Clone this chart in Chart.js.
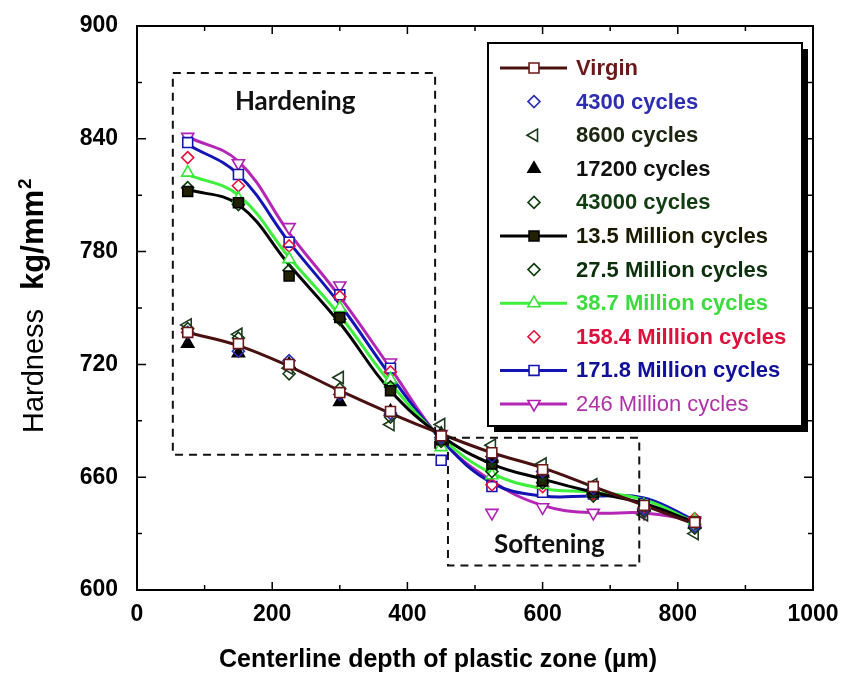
<!DOCTYPE html>
<html>
<head>
<meta charset="utf-8">
<script src="https://cdn.jsdelivr.net/npm/chart.js@4/dist/chart.umd.min.js"></script>
<style>
  html, body { margin: 0; padding: 0; background: #fff; }
  #wrap { width: 842px; height: 677px; position: relative; }
</style>
</head>
<body>
<div id="wrap"><canvas id="c" width="842" height="677"></canvas></div>
<script>
// Depth positions along the centerline (µm)
const depths = [75, 150, 225, 300, 375, 450, 525, 600, 675, 750, 825];
const xTicks = [0, 200, 400, 600, 800, 1000];
const yTicks = [600, 660, 720, 780, 840, 900];

// Measured microhardness (kg/mm²) for each loading history
const virgin   = [737, 731, 720, 705, 695, 682, 673, 664, 655, 645, 636];
const c4300    = [737, 727, 722, 704, 694, 681, 671, 663, 654, 643, 634];
const c8600    = [741, 736, 718, 713, 688, 688, 677, 667, 656, 640, 630];
const c17200   = [731, 726, 720, 700, 695, 683, 670, 662, 653, 644, 635];
const c43000   = [739, 734, 715, 707, 692, 680, 669, 661, 652, 642, 633];
const m13_5    = [812, 806, 767, 745, 706, 680, 667, 658, 652, 645, 636];
const m27_5    = [814, 805, 770, 744, 708, 679, 663, 657, 650, 643, 633];
const m38_7    = [822, 808, 776, 750, 712, 676, 661, 656, 652, 645, 637];
const m158_4   = [830, 815, 783, 756, 716, 678, 656, 655, 651, 644, 638];
const m171_8   = [838, 821, 785, 757, 718, 669, 655, 652, 651, 646, 636];
const m246     = [841, 827, 793, 762, 721, 683, 641, 644, 641, 641, 637];

// Smoothed trend curves
const virginFit = [737, 730, 719, 706, 694, 683, 673, 665, 655, 645, 635];
const fit13_5   = [813, 805, 773, 742, 706, 682, 667, 659, 652, 646, 636];
const fit38_7   = [821, 810, 777, 746, 710, 681, 662, 654, 652, 648, 636];
const fit171_8  = [837, 821, 785, 752, 714, 680, 657, 650, 650, 649, 637];
const fit246    = [841, 828, 790, 756, 718, 680, 658, 645, 641, 641, 637];

const seriesNames = [
  'Virgin', '4300 cycles', '8600 cycles', '17200 cycles', '43000 cycles',
  '13.5 Million cycles', '27.5 Million cycles', '38.7 Million cycles',
  '158.4 Milllion cycles', '171.8 Million cycles', '246 Million cycles'
];

const xTitle = 'Centerline depth of plastic zone (µm)';
const yTitleParts = ['Hardness', 'kg/mm', '2'];

// Series styling: marker shape, colours, whether a trend curve is drawn
const series = [
  { name: seriesNames[0],  data: virgin, fit: virginFit, shape: 'rect',     rot: 0,   r: 7, stroke: '#6a1818', fill: '#ffffff', line: '#4a1010', text: '#6a1818', bold: true },
  { name: seriesNames[1],  data: c4300,  fit: null,      shape: 'rectRot',  rot: 0,   r: 6, stroke: '#2d2db4', fill: 'rgba(0,0,0,0)', text: '#2d2db4', bold: true },
  { name: seriesNames[2],  data: c8600,  fit: null,      shape: 'triangle', rot: -90, r: 7, stroke: '#1c3a1c', fill: 'rgba(0,0,0,0)', text: '#1a2610', bold: true },
  { name: seriesNames[3],  data: c17200, fit: null,      shape: 'triangle', rot: 0,   r: 7, stroke: '#000000', fill: '#000000', text: '#101010', bold: true },
  { name: seriesNames[4],  data: c43000, fit: null,      shape: 'rectRot',  rot: 0,   r: 6, stroke: '#123c12', fill: 'rgba(0,0,0,0)', text: '#123c12', bold: true },
  { name: seriesNames[5],  data: m13_5,  fit: fit13_5,   shape: 'rect',     rot: 0,   r: 7, stroke: '#000000', fill: '#222200', line: '#000000', text: '#1a1a00', bold: true },
  { name: seriesNames[6],  data: m27_5,  fit: null,      shape: 'rectRot',  rot: 0,   r: 6, stroke: '#0c3c0c', fill: 'rgba(0,0,0,0)', text: '#0c300c', bold: true },
  { name: seriesNames[7],  data: m38_7,  fit: fit38_7,   shape: 'triangle', rot: 0,   r: 7, stroke: '#33e633', fill: '#ffffff', line: '#3cf03c', text: '#3cdc3c', bold: true },
  { name: seriesNames[8],  data: m158_4, fit: null,      shape: 'rectRot',  rot: 0,   r: 6, stroke: '#e8103c', fill: 'rgba(0,0,0,0)', text: '#e0103c', bold: true },
  { name: seriesNames[9],  data: m171_8, fit: fit171_8,  shape: 'rect',     rot: 0,   r: 7, stroke: '#1414b0', fill: '#ffffff', line: '#1414b4', text: '#10109a', bold: true },
  { name: seriesNames[10], data: m246,   fit: fit246,    shape: 'triangle', rot: 180, r: 7, stroke: '#b020b4', fill: '#ffffff', line: '#b426b4', text: '#b030a8', bold: false }
];

// Region outlines in data units
const hardeningBox = { x0: 53, x1: 441, y0: 672, y1: 875, label: 'Hardening' };
const softeningBox = { x0: 460, x1: 743, y0: 613, y1: 681, label: 'Softening' };

const datasets = [];
series.forEach(s => {
  if (s.fit) {
    datasets.push({
      label: s.name + ' trend',
      data: depths.map((x, i) => ({ x, y: s.fit[i] })),
      showLine: true,
      borderColor: s.line,
      borderWidth: 3,
      pointRadius: 0,
      tension: 0.4,
      fill: false,
      order: 2
    });
  }
  datasets.push({
    label: s.name,
    data: depths.map((x, i) => ({ x, y: s.data[i] })),
    showLine: false,
    pointStyle: s.shape,
    rotation: s.rot,
    pointRadius: s.r,
    pointBorderWidth: 1.6,
    pointBorderColor: s.stroke,
    pointBackgroundColor: s.fill,
    order: 1
  });
});

function drawMarker(ctx, shape, x, y, r, rot, stroke, fill) {
  ctx.save();
  ctx.translate(x, y);
  ctx.rotate(rot * Math.PI / 180);
  ctx.beginPath();
  if (shape === 'rect') {
    const s = r * Math.SQRT1_2;
    ctx.rect(-s, -s, 2 * s, 2 * s);
  } else if (shape === 'rectRot') {
    ctx.moveTo(0, -r); ctx.lineTo(r, 0); ctx.lineTo(0, r); ctx.lineTo(-r, 0); ctx.closePath();
  } else {
    for (let k = 0; k < 3; k++) {
      const a = k * 2 * Math.PI / 3;
      const px = Math.sin(a) * r, py = -Math.cos(a) * r;
      if (k === 0) ctx.moveTo(px, py); else ctx.lineTo(px, py);
    }
    ctx.closePath();
  }
  ctx.fillStyle = fill;
  ctx.fill();
  ctx.lineWidth = 1.6;
  ctx.strokeStyle = stroke;
  ctx.stroke();
  ctx.restore();
}

const FAMILY = '"Liberation Sans", Arial, sans-serif';

// Frame, inward tick marks, region boxes, axis titles and the boxed legend
const decorations = {
  id: 'decorations',
  afterDatasetsDraw(chart) {
    const { ctx, chartArea: a, scales: { x, y } } = chart;
    ctx.save();

    // Region boxes
    ctx.setLineDash([8, 6]);
    ctx.lineWidth = 2;
    ctx.strokeStyle = '#111';
    [hardeningBox, softeningBox].forEach(b => {
      const l = x.getPixelForValue(b.x0), r = x.getPixelForValue(b.x1);
      const t = y.getPixelForValue(b.y1), bt = y.getPixelForValue(b.y0);
      ctx.strokeRect(l, t, r - l, bt - t);
    });
    ctx.setLineDash([]);
    ctx.fillStyle = '#111';
    ctx.font = 'bold 26px Lato, "Open Sans", sans-serif';
    ctx.textAlign = 'center';
    ctx.textBaseline = 'middle';
    ctx.fillText(hardeningBox.label, x.getPixelForValue(234), y.getPixelForValue(860));
    ctx.fillText(softeningBox.label, x.getPixelForValue(610), y.getPixelForValue(624));

    // Frame
    ctx.lineWidth = 2;
    ctx.strokeStyle = '#000';
    ctx.strokeRect(a.left, a.top, a.right - a.left, a.bottom - a.top);

    // Inward ticks on all four sides
    ctx.lineWidth = 1.5;
    ctx.beginPath();
    for (let v = 0; v <= 1000; v += 100) {
      const px = x.getPixelForValue(v);
      const len = v % 200 === 0 ? 8 : 5;
      ctx.moveTo(px, a.bottom); ctx.lineTo(px, a.bottom - len);
      ctx.moveTo(px, a.top); ctx.lineTo(px, a.top + len);
    }
    for (let v = 600; v <= 900; v += 30) {
      const py = y.getPixelForValue(v);
      const len = v % 60 === 0 ? 9 : 5;
      ctx.moveTo(a.left, py); ctx.lineTo(a.left + len, py);
      ctx.moveTo(a.right, py); ctx.lineTo(a.right - len, py);
    }
    ctx.stroke();

    // X axis title
    ctx.fillStyle = '#000';
    ctx.font = 'bold 25px ' + FAMILY;
    ctx.textAlign = 'center';
    ctx.textBaseline = 'middle';
    ctx.fillText(xTitle, 438, 660);

    // Y axis title (rotated, with superscript)
    ctx.save();
    ctx.translate(43, 433);
    ctx.rotate(-Math.PI / 2);
    ctx.textAlign = 'left';
    ctx.textBaseline = 'alphabetic';
    ctx.font = '29px ' + FAMILY;
    ctx.fillText(yTitleParts[0], 0, 0);
    let off = ctx.measureText(yTitleParts[0]).width + 19;
    ctx.font = 'bold 31px ' + FAMILY;
    ctx.fillText(yTitleParts[1], off, 0);
    off += ctx.measureText(yTitleParts[1]).width + 1;
    ctx.font = 'bold 19px ' + FAMILY;
    ctx.fillText(yTitleParts[2], off, -12);
    ctx.restore();

    ctx.restore();
  },
  afterDraw(chart) {
    const ctx = chart.ctx;
    const L = 488, T = 43, R = 802, B = 426, sh = 6;
    ctx.save();
    // drop shadow
    ctx.fillStyle = '#000';
    ctx.fillRect(R, T + 6, sh, B - T);
    ctx.fillRect(L + 6, B, R - L, sh);
    ctx.fillStyle = '#fff';
    ctx.fillRect(L, T, R - L, B - T);
    ctx.lineWidth = 2;
    ctx.strokeStyle = '#000';
    ctx.strokeRect(L, T, R - L, B - T);

    const rowH = 33.6;
    series.forEach((s, i) => {
      const cy = T + 25 + i * rowH;
      if (s.fit) {
        ctx.beginPath();
        ctx.moveTo(500, cy); ctx.lineTo(567, cy);
        ctx.lineWidth = 3;
        ctx.strokeStyle = s.line;
        ctx.stroke();
      }
      drawMarker(ctx, s.shape, 534, cy, s.r, s.rot, s.stroke, s.fill === 'rgba(0,0,0,0)' ? '#fff' : s.fill);
      ctx.font = (s.bold ? 'bold ' : '') + '22px ' + FAMILY;
      ctx.fillStyle = s.text;
      ctx.textAlign = 'left';
      ctx.textBaseline = 'middle';
      ctx.fillText(s.name, 576, cy + 1);
    });
    ctx.restore();
  }
};

const tickFont = { family: FAMILY, size: 23, weight: 'bold' };

new Chart(document.getElementById('c'), {
  type: 'scatter',
  data: { datasets },
  options: {
    responsive: false,
    animation: false,
    devicePixelRatio: 1,
    layout: { padding: { left: 0, right: 29, top: 26, bottom: 0 } },
    plugins: { legend: { display: false }, tooltip: { enabled: false } },
    scales: {
      x: {
        type: 'linear', min: 0, max: 1000,
        afterBuildTicks: s => { s.ticks = xTicks.map(v => ({ value: v })); },
        afterFit: s => { s.height = 87; s.paddingLeft = 0; s.paddingRight = 0; },
        grid: { display: false, drawTicks: false },
        border: { display: false },
        ticks: { font: tickFont, color: '#000', padding: 11, maxRotation: 0, callback: v => String(v) },
        title: { display: false }
      },
      y: {
        type: 'linear', min: 600, max: 900,
        afterBuildTicks: s => { s.ticks = yTicks.map(v => ({ value: v })); },
        afterFit: s => { s.width = 137; s.paddingTop = 0; s.paddingBottom = 0; },
        grid: { display: false, drawTicks: false },
        border: { display: false },
        ticks: { font: tickFont, color: '#000', padding: 19, callback: v => String(v) },
        title: { display: false }
      }
    }
  },
  plugins: [decorations]
});
</script>
</body>
</html>
